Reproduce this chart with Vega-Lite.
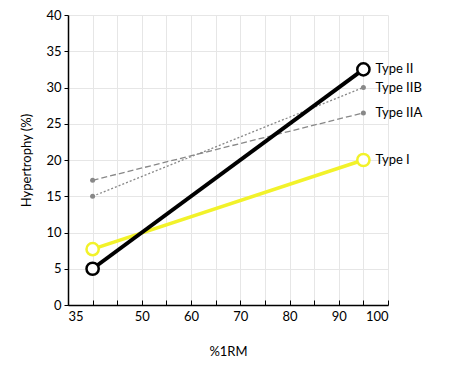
{
  "$schema": "https://vega.github.io/schema/vega-lite/v6.json",
  "width": 320,
  "height": 290,
  "autosize": "none",
  "padding": {"left": 68, "top": 15, "right": 62, "bottom": 75},
  "background": "white",
  "config": {
    "view": {"stroke": null},
    "font": "Lato",
    "axis": {"labelFont": "Lato", "titleFont": "Lato", "labelFontSize": 13, "titleFontSize": 13, "titleFontWeight": "normal", "labelColor": "black", "titleColor": "black", "domainColor": "black", "tickColor": "black", "gridColor": "#e6e6e6", "domainWidth": 1.5}
  },
  "data": {
    "values": [
      {"type": "Type II", "x": 40, "y": 5},
      {"type": "Type II", "x": 95, "y": 32.5},
      {"type": "Type IIB", "x": 40, "y": 15},
      {"type": "Type IIB", "x": 95, "y": 30},
      {"type": "Type IIA", "x": 40, "y": 17.2},
      {"type": "Type IIA", "x": 95, "y": 26.5},
      {"type": "Type I", "x": 40, "y": 7.7},
      {"type": "Type I", "x": 95, "y": 20}
    ]
  },
  "encoding": {
    "x": {"field": "x", "type": "quantitative", "scale": {"domain": [35, 100], "nice": false, "zero": false},
      "axis": {"title": "%1RM", "values": [35,40,45,50,55,60,65,70,75,80,85,90,95,100], "labelExpr": "datum.value == 35 || (datum.value % 10 == 0 && datum.value >= 50) ? datum.label : ''", "tickSize": -5, "labelPadding": 10, "titlePadding": 22}},
    "y": {"field": "y", "type": "quantitative", "scale": {"domain": [0, 40], "nice": false},
      "axis": {"title": "Hypertrophy (%)", "values": [0,5,10,15,20,25,30,35,40], "tickSize": 4, "labelPadding": 3, "titlePadding": 12}}
  },
  "layer": [
    {
      "transform": [{"filter": "datum.type == 'Type IIA'"}],
      "mark": {"type": "line", "color": "#888888", "strokeWidth": 1.3, "strokeDash": [6, 3]}
    },
    {
      "transform": [{"filter": "datum.type == 'Type IIB'"}],
      "mark": {"type": "line", "color": "#888888", "strokeWidth": 1.3, "strokeDash": [2, 2]}
    },
    {
      "transform": [{"filter": "datum.type == 'Type I'"}],
      "mark": {"type": "line", "color": "#f2f22a", "strokeWidth": 3.5}
    },
    {
      "transform": [{"filter": "datum.type == 'Type II'"}],
      "mark": {"type": "line", "color": "#000000", "strokeWidth": 4}
    },
    {
      "transform": [{"filter": "datum.type == 'Type I'"}],
      "mark": {"type": "point", "filled": false, "fill": "white", "fillOpacity": 1, "opacity": 1, "size": 150, "strokeWidth": 2.5, "stroke": "#f2f22a"}
    },
    {
      "transform": [{"filter": "datum.type == 'Type II'"}],
      "mark": {"type": "point", "filled": false, "fill": "white", "fillOpacity": 1, "opacity": 1, "size": 150, "strokeWidth": 2.5, "stroke": "#000000"}
    },
    {
      "transform": [{"filter": "datum.type == 'Type IIB' || datum.type == 'Type IIA'"}],
      "mark": {"type": "circle", "size": 25, "color": "#888888", "opacity": 1}
    },
    {
      "transform": [{"filter": "datum.x == 95"}],
      "mark": {"type": "text", "align": "left", "dx": 12, "fontSize": 13, "font": "Lato", "color": "black"},
      "encoding": {"text": {"field": "type"}}
    }
  ]
}
